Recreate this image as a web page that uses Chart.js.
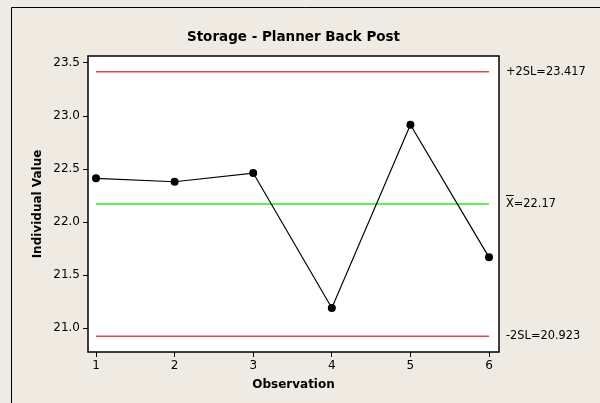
<!DOCTYPE html>
<html>
<head>
<meta charset="utf-8">
<script src="https://cdn.jsdelivr.net/npm/chart.js@4"></script>
<style>
html,body{margin:0;padding:0;background:#EFEBE2;}
#wrap{width:600px;height:403px;position:relative;}
</style>
</head>
<body>
<div id="wrap"><canvas id="c" width="600" height="403"></canvas></div>
<script>
// ---- data ----
const observations = [1, 2, 3, 4, 5, 6];
const values = [22.412, 22.380, 22.462, 21.189, 22.918, 21.667];
const yTickValues = [21.0, 21.5, 22.0, 22.5, 23.0, 23.5];
const xTickValues = [1, 2, 3, 4, 5, 6];
const upperLimit = 23.417;
const centerLine = 22.17;
const lowerLimit = 20.923;
const limitLabels = ['+2SL=23.417', 'X=22.17', '-2SL=20.923'];
const chartTitle = 'Storage - Planner Back Post';
const xTitle = 'Observation';
const yTitle = 'Individual Value';

const FONT = "'DejaVu Sans', Verdana, sans-serif";

const points = observations.map((o, i) => ({x: o, y: values[i]}));
const first = observations[0], last = observations[observations.length - 1];
const hline = v => [{x: first, y: v}, {x: last, y: v}];

const framePlugin = {
  id: 'frame',
  beforeDraw(chart) {
    const ctx = chart.ctx, a = chart.chartArea;
    ctx.save();
    ctx.fillStyle = '#EFEBE2';
    ctx.fillRect(0, 0, chart.width, chart.height);
    // outer frame (left and top)
    ctx.strokeStyle = '#000';
    ctx.lineWidth = 1;
    ctx.beginPath();
    ctx.moveTo(11.5, chart.height);
    ctx.lineTo(11.5, 7.5);
    ctx.lineTo(chart.width, 7.5);
    ctx.stroke();
    ctx.fillStyle = '#FFFFFF';
    ctx.fillRect(a.left, a.top, a.right - a.left, a.bottom - a.top);
    ctx.restore();
  },
  afterDraw(chart) {
    const ctx = chart.ctx, a = chart.chartArea;
    const ys = chart.scales.y;
    ctx.save();
    ctx.strokeStyle = '#000';
    ctx.lineWidth = 1.5;
    ctx.strokeRect(a.left, a.top, a.right - a.left, a.bottom - a.top);
    // title
    ctx.fillStyle = '#000';
    ctx.font = "bold 13.5px " + FONT;
    ctx.textAlign = 'center';
    ctx.textBaseline = 'middle';
    ctx.fillText(chartTitle, (a.left + a.right) / 2, 37);
    // x title
    ctx.font = "bold 12px " + FONT;
    ctx.fillText(xTitle, (a.left + a.right) / 2, 385);
    // y title
    ctx.save();
    ctx.translate(38, (a.top + a.bottom) / 2);
    ctx.rotate(-Math.PI / 2);
    ctx.fillText(yTitle, 0, 0);
    ctx.restore();
    // limit labels
    ctx.font = "11.4px " + FONT;
    ctx.textAlign = 'left';
    const lx = a.right + 7;
    ctx.fillText(limitLabels[0], lx, ys.getPixelForValue(upperLimit));
    const yc = ys.getPixelForValue(centerLine);
    ctx.fillText(limitLabels[1], lx, yc);
    const wX = ctx.measureText('X').width;
    ctx.lineWidth = 1;
    ctx.beginPath();
    ctx.moveTo(lx, yc - 8.5);
    ctx.lineTo(lx + wX, yc - 8.5);
    ctx.stroke();
    ctx.fillText(limitLabels[2], lx, ys.getPixelForValue(lowerLimit));
    ctx.restore();
  }
};

new Chart(document.getElementById('c'), {
  type: 'line',
  data: {
    datasets: [
      {data: hline(upperLimit), borderColor: '#E0474F', borderWidth: 1.4, pointRadius: 0, order: 3},
      {data: hline(lowerLimit), borderColor: '#E0474F', borderWidth: 1.4, pointRadius: 0, order: 3},
      {data: hline(centerLine), borderColor: '#5CF05C', borderWidth: 2, pointRadius: 0, order: 2},
      {data: points, borderColor: '#000', borderWidth: 1.2, pointRadius: 4, pointBackgroundColor: '#000',
       pointBorderColor: '#000', pointBorderWidth: 0, order: 1}
    ]
  },
  options: {
    responsive: false,
    animation: false,
    events: [],
    layout: {padding: {left: 0, right: 101, top: 56, bottom: 0}},
    plugins: {legend: {display: false}, tooltip: {enabled: false}},
    scales: {
      x: {
        type: 'linear', min: 0.898, max: 6.127,
        afterBuildTicks: s => { s.ticks = xTickValues.map(v => ({value: v})); },
        afterFit: s => { s.height = 51; },
        grid: {drawOnChartArea: false, drawTicks: true, tickLength: 5, color: '#000'},
        border: {display: false},
        ticks: {color: '#000', font: {family: FONT, size: 12}, padding: 2, maxRotation: 0,
                callback: v => String(v)}
      },
      y: {
        type: 'linear', min: 20.774, max: 23.566,
        afterBuildTicks: s => { s.ticks = yTickValues.map(v => ({value: v})); },
        afterFit: s => { s.width = 88; },
        grid: {drawOnChartArea: false, drawTicks: true, tickLength: 5, color: '#000'},
        border: {display: false},
        ticks: {color: '#000', font: {family: FONT, size: 12}, padding: 3,
                callback: v => Number(v).toFixed(1)}
      }
    }
  },
  plugins: [framePlugin]
});
</script>
</body>
</html>
